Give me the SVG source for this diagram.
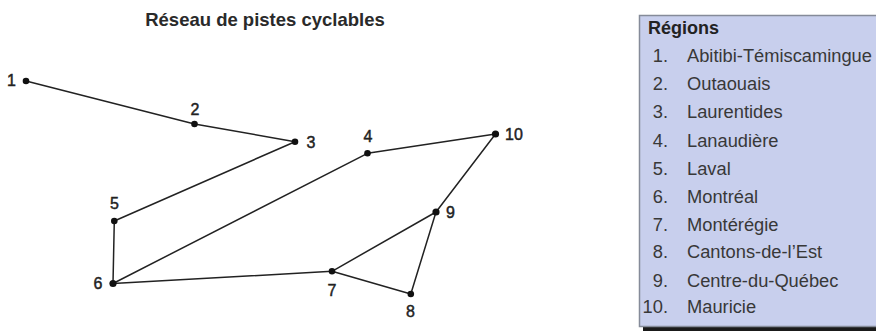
<svg xmlns="http://www.w3.org/2000/svg" width="876" height="331" viewBox="0 0 876 331">
<style>
.title{font-family:"Liberation Sans",Arial,sans-serif;font-size:18.5px;font-weight:bold;fill:#2a2a2a}
.lbl{font-family:"Liberation Sans",Arial,sans-serif;font-size:16px;fill:#222;stroke:#222;stroke-width:0.45;text-anchor:middle}
.edge{stroke:#222;stroke-width:1.5;fill:none;stroke-linecap:round}
.dot{fill:#111}
.lg{font-family:"Liberation Sans",Arial,sans-serif;font-size:18.3px;fill:#383838}
.num{text-anchor:end}
.hd{font-family:"Liberation Sans",Arial,sans-serif;font-size:18px;font-weight:bold;fill:#222}
</style>
<rect width="876" height="331" fill="#fff"/>
<text class="title" x="265" y="26" text-anchor="middle">Réseau de pistes cyclables</text>
<g id="connectors">
<line class="edge" x1="26" y1="81" x2="194.5" y2="124"/>
<line class="edge" x1="194.5" y1="124" x2="295" y2="141.7"/>
<line class="edge" x1="295" y1="141.7" x2="114.3" y2="221"/>
<line class="edge" x1="114.3" y1="221" x2="113" y2="283.5"/>
<line class="edge" x1="113" y1="283.5" x2="367.5" y2="153.3"/>
<line class="edge" x1="367.5" y1="153.3" x2="495.5" y2="134"/>
<line class="edge" x1="495.5" y1="134" x2="436" y2="212"/>
<line class="edge" x1="436" y1="212" x2="332" y2="271.3"/>
<line class="edge" x1="436" y1="212" x2="410.8" y2="294"/>
<line class="edge" x1="332" y1="271.3" x2="410.8" y2="294"/>
<line class="edge" x1="113" y1="283.5" x2="332" y2="271.3"/>
</g>
<g id="n1"><circle class="dot" cx="26" cy="81" r="3.3"/><text class="lbl" x="11.5" y="85.5">1</text></g>
<g id="n2"><circle class="dot" cx="194.5" cy="124" r="3.3"/><text class="lbl" x="195" y="115">2</text></g>
<g id="n3"><circle class="dot" cx="295" cy="141.7" r="3.3"/><text class="lbl" x="311" y="148">3</text></g>
<g id="n4"><circle class="dot" cx="367.5" cy="153.3" r="3.3"/><text class="lbl" x="368" y="142">4</text></g>
<g id="n5"><circle class="dot" cx="114.3" cy="221" r="3.3"/><text class="lbl" x="114.5" y="209">5</text></g>
<g id="n6"><circle class="dot" cx="113" cy="283.5" r="3.6"/><text class="lbl" x="98" y="289">6</text></g>
<g id="n7"><circle class="dot" cx="332" cy="271.3" r="3.3"/><text class="lbl" x="332" y="296">7</text></g>
<g id="n8"><circle class="dot" cx="410.8" cy="294" r="3.3"/><text class="lbl" x="410.5" y="317">8</text></g>
<g id="n9"><circle class="dot" cx="436" cy="212" r="3.6"/><text class="lbl" x="450.5" y="218">9</text></g>
<g id="n10"><circle class="dot" cx="495.5" cy="134" r="3.6"/><text class="lbl" x="514" y="140">10</text></g>
<g id="legend">
<rect x="643" y="19" width="250" height="312" fill="#1a1a1a"/>
<rect x="639.5" y="15.5" width="250" height="311" fill="#c8cfed" stroke="#858b99" stroke-width="1.5"/>
<text class="hd" x="648" y="34">Régions</text>
<g class="lg">
<text class="num" x="668" y="62">1.</text><text x="687" y="62">Abitibi-Témiscamingue</text>
<text class="num" x="668" y="90">2.</text><text x="687" y="90">Outaouais</text>
<text class="num" x="668" y="118">3.</text><text x="687" y="118">Laurentides</text>
<text class="num" x="668" y="147">4.</text><text x="687" y="147">Lanaudière</text>
<text class="num" x="668" y="175">5.</text><text x="687" y="175">Laval</text>
<text class="num" x="668" y="203">6.</text><text x="687" y="203">Montréal</text>
<text class="num" x="668" y="231">7.</text><text x="687" y="231">Montérégie</text>
<text class="num" x="668" y="258">8.</text><text x="687" y="258">Cantons-de-l’Est</text>
<text class="num" x="668" y="287">9.</text><text x="687" y="287">Centre-du-Québec</text>
<text class="num" x="668" y="313">10.</text><text x="687" y="313">Mauricie</text>
</g>
</g>
</svg>
